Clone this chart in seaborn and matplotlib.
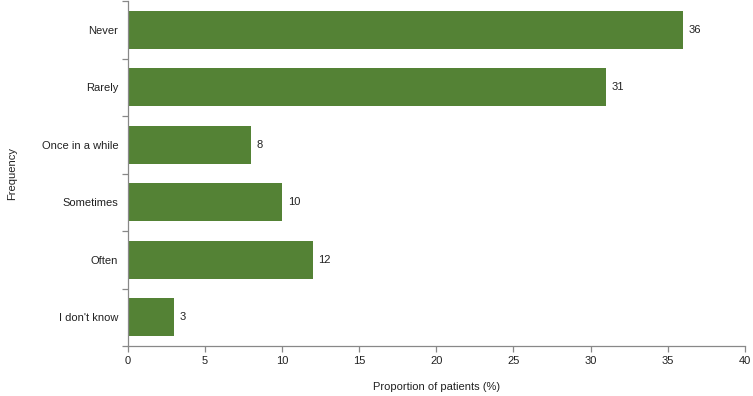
import matplotlib
matplotlib.use('Agg')
import matplotlib.pyplot as plt
import seaborn as sns
import pandas as pd
import numpy as np

categories = ['Never', 'Rarely', 'Once in a while', 'Sometimes', 'Often', "I don't know"]
values = [36, 31, 8, 10, 12, 3]

df = pd.DataFrame({'Frequency': categories, 'Proportion': values})

sns.set_style('white')
plt.rcParams['font.family'] = ['Liberation Sans', 'DejaVu Sans']

fig = plt.figure(figsize=(7.53, 3.96), dpi=100)
ax = fig.add_axes([0.170, 0.126, 0.819, 0.871])

sns.barplot(data=df, x='Proportion', y='Frequency', orient='h', color='#548235',
            saturation=1, width=0.66, linewidth=0, ax=ax)

for c in ax.containers:
    ax.bar_label(c, padding=4, fontsize=8, color='#222222')

ax.set_xlim(0, 40)
ax.set_ylim(len(categories) - 0.5, -0.5)
ax.set_xticks(np.arange(0, 41, 5))
ax.set_yticks(np.arange(-0.5, len(categories), 1), minor=True)

gray = '#888888'
for side in ['top', 'right']:
    ax.spines[side].set_visible(False)
for side in ['left', 'bottom']:
    ax.spines[side].set_color(gray)
    ax.spines[side].set_linewidth(0.9)

ax.tick_params(axis='y', which='major', left=False, length=0, pad=7, labelsize=8, labelcolor='#222222')
ax.tick_params(axis='y', which='minor', left=True, length=4, width=0.9, color=gray, direction='out')
ax.tick_params(axis='x', bottom=True, length=4, width=0.9, color=gray, direction='out',
               labelsize=8, labelcolor='#222222', pad=3)

ax.set_xlabel('Proportion of patients (%)', fontsize=8, color='#222222', labelpad=12)
ax.set_ylabel('Frequency', fontsize=8, color='#222222')
ax.yaxis.set_label_coords(-0.180, 0.5)

fig.savefig('out.png', dpi=100)
